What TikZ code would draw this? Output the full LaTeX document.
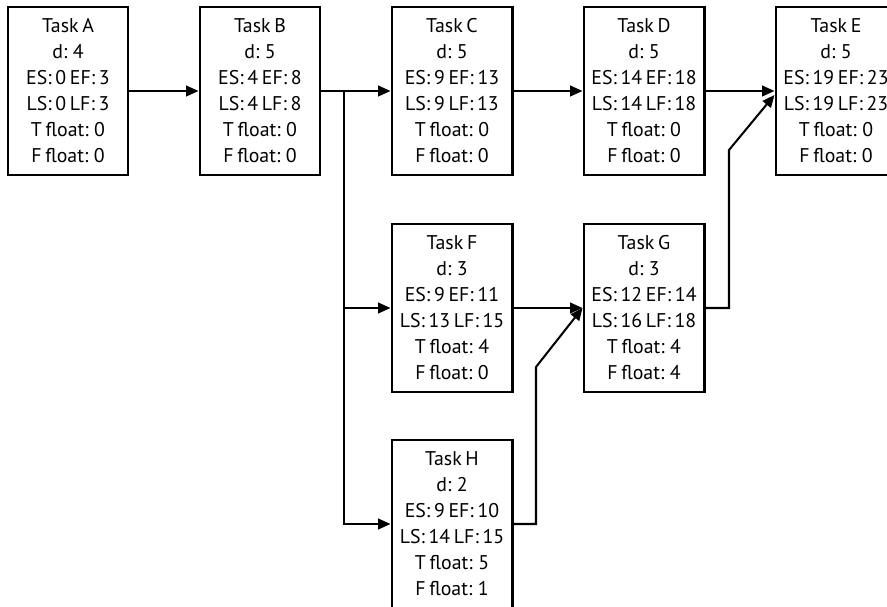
\documentclass[tikz,border=0pt]{standalone}
\usepackage{fontspec}
\setmainfont{PT Sans}[WordSpace=0.7]
\usetikzlibrary{calc, positioning}
\usetikzlibrary{arrows.meta}

\begin{document}
\begin{tikzpicture}[x=0.02cm, y=-0.02cm,
    task/.style={draw, line width=1.15pt, inner sep=0pt, align=center,
        minimum width=2.42cm, minimum height=3.36cm,
        font=\fontsize{11.3}{14.8}\selectfont},
    link/.style={line width=1.15pt, -{Triangle[length=7pt, width=6pt]}}]
\clip (0,0) rectangle (887,607);
\def\dx{192}
\def\rowA{91}
\def\rowB{308}
\def\rowC{524}

% activity boxes
\node[task] (a) at (68,\rowA) {Task A\\d: 4\\ES: 0 EF: 3\\LS: 0 LF: 3\\T float: 0\\F float: 0};
\node[task] (b) at ({68+\dx},\rowA) {Task B\\d: 5\\ES: 4 EF: 8\\LS: 4 LF: 8\\T float: 0\\F float: 0};
\node[task] (c) at ({68+2*\dx},\rowA) {Task C\\d: 5\\ES: 9 EF: 13\\LS: 9 LF: 13\\T float: 0\\F float: 0};
\node[task] (d) at ({68+3*\dx},\rowA) {Task D\\d: 5\\ES: 14 EF: 18\\LS: 14 LF: 18\\T float: 0\\F float: 0};
\node[task] (e) at ({68+4*\dx},\rowA) {Task E\\d: 5\\ES: 19 EF: 23\\LS: 19 LF: 23\\T float: 0\\F float: 0};
\node[task] (f) at ({68+2*\dx},\rowB) {Task F\\d: 3\\ES: 9 EF: 11\\LS: 13 LF: 15\\T float: 4\\F float: 0};
\node[task] (g) at ({68+3*\dx},\rowB) {Task G\\d: 3\\ES: 12 EF: 14\\LS: 16 LF: 18\\T float: 4\\F float: 4};
\node[task] (h) at ({68+2*\dx},\rowC) {Task H\\d: 2\\ES: 9 EF: 10\\LS: 14 LF: 15\\T float: 5\\F float: 1};

% bend points
\coordinate (split) at (344,\rowA);
\coordinate (hbend) at (536,367);
\coordinate (gbend) at (729,150);

% dependencies
\draw[link] (a) -- (b);
\draw[link] (b) -- (c);
\draw[link] (c) -- (d);
\draw[link] (d) -- (e);
\draw[link] (split) |- (f.west);
\draw[link] (split) |- (h.west);
\draw[link] (f) -- (g);
\draw[link] (h.east) -| (hbend) -- (g.west);
\draw[link] (g.east) -| (gbend) -- ($(e.west)+(0,4)$);
\end{tikzpicture}
\end{document}
